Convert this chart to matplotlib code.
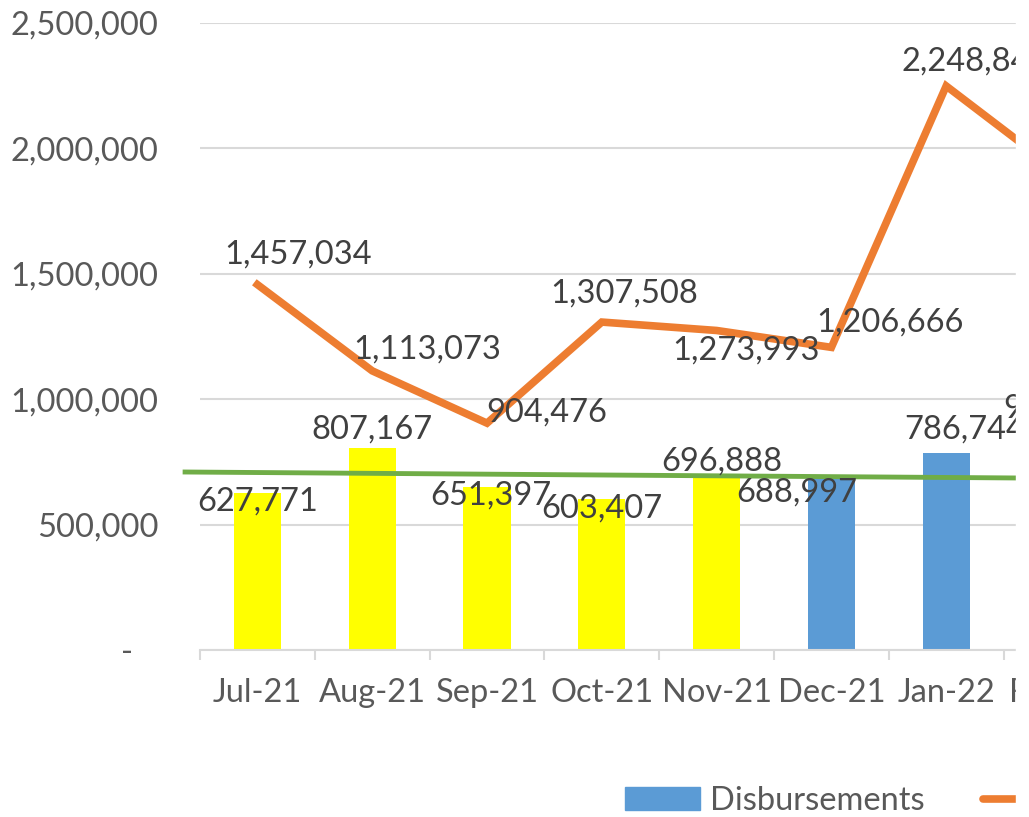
import matplotlib.pyplot as plt
from matplotlib.patches import Patch, Rectangle
from matplotlib.lines import Line2D
from matplotlib.ticker import FuncFormatter

plt.rcParams["font.family"] = ["Lato", "DejaVu Sans"]

months = ["Jul-21", "Aug-21", "Sep-21", "Oct-21", "Nov-21", "Dec-21", "Jan-22", "Feb-22"]
disbursements = [627771, 807167, 651397, 603407, 696888, 688997, 786744, 915000]
collections = [1457034, 1113073, 904476, 1307508, 1273993, 1206666, 2248840, 1900000]
bar_colors = ["#FFFF00"] * 5 + ["#5B9BD5"] * 3
# trend line end points (x position, value)
trend_x = [-0.63, 7.5]
trend_y = [709700, 683000]

# label offsets in pixels, placed by hand like the original
bar_label_off = [(0, -9), (0, 18), (4, -9), (0, -10), (5, 14), (-35, -15), (18, 23), (3, 12)]
line_label_off = [(41, 30), (55, 21), (60, 11), (22, 29), (29, -20), (59, 25), (29, 24), (29, 24)]

W, H = 1029, 817
fig = plt.figure(figsize=(W / 100, H / 100), dpi=100)
step = 114.8
ax = fig.add_axes([200 / W, (H - 650) / H, 8 * step / W, 627 / H])

x = range(len(months))
fs = 23.5
ax.bar(x, disbursements, width=0.41, color=bar_colors, zorder=2)
ax.plot(trend_x, trend_y, color="#70AD47", lw=3.5, zorder=3, clip_on=False)
ax.plot(x, collections, color="#ED7D31", lw=5.5, zorder=4, solid_joinstyle="miter")

label_kw = dict(textcoords="offset pixels", ha="center", va="center",
                fontsize=fs, color="#404040", annotation_clip=False, zorder=5)
for i, v in enumerate(disbursements):
    ax.annotate(f"{v:,}", (i, v), xytext=bar_label_off[i], **label_kw)
for i, v in enumerate(collections):
    ax.annotate(f"{v:,}", (i, v), xytext=line_label_off[i], **label_kw)

ax.set_xlim(-0.5, 7.5)
ax.set_ylim(0, 2500000)
ax.set_yticks(range(0, 2500001, 500000))
ax.yaxis.set_major_formatter(FuncFormatter(lambda v, p: "-   " if v == 0 else f"{int(v):,}"))
ax.set_xticks(list(x))
ax.set_xticklabels(months)
ax.set_xticks([i - 0.5 for i in range(len(months) + 1)], minor=True)

ax.grid(axis="y", color="#D9D9D9", lw=1.5, zorder=0)
ax.set_axisbelow(True)
for s in ["top", "right", "left"]:
    ax.spines[s].set_visible(False)
ax.spines["bottom"].set_color("#D9D9D9")
ax.spines["bottom"].set_linewidth(1.5)

ax.tick_params(axis="y", length=0, pad=30, labelsize=fs, labelcolor="#595959")
ax.tick_params(axis="x", which="major", length=0, pad=20, labelsize=fs, labelcolor="#595959")
ax.tick_params(axis="x", which="minor", length=7.2, width=1.5, color="#D9D9D9")

handles = [Patch(color="#5B9BD5", label="Disbursements"),
           Line2D([], [], color="#ED7D31", lw=5.5, solid_capstyle="round", label="Collections")]
fig.legend(handles=handles, loc="center left", bbox_to_anchor=(625 / W, 1 - 801 / H),
           ncol=2, frameon=False, fontsize=fs, labelcolor="#595959",
           handlelength=2.3, handletextpad=0.3, columnspacing=1.8,
           borderaxespad=0, borderpad=0)

# the source picture is cut off at the right
fig.patches.append(Rectangle((1016 / W, 0), 1, 1, transform=fig.transFigure,
                             color="white", zorder=20))

fig.savefig("out.png", dpi=100)
